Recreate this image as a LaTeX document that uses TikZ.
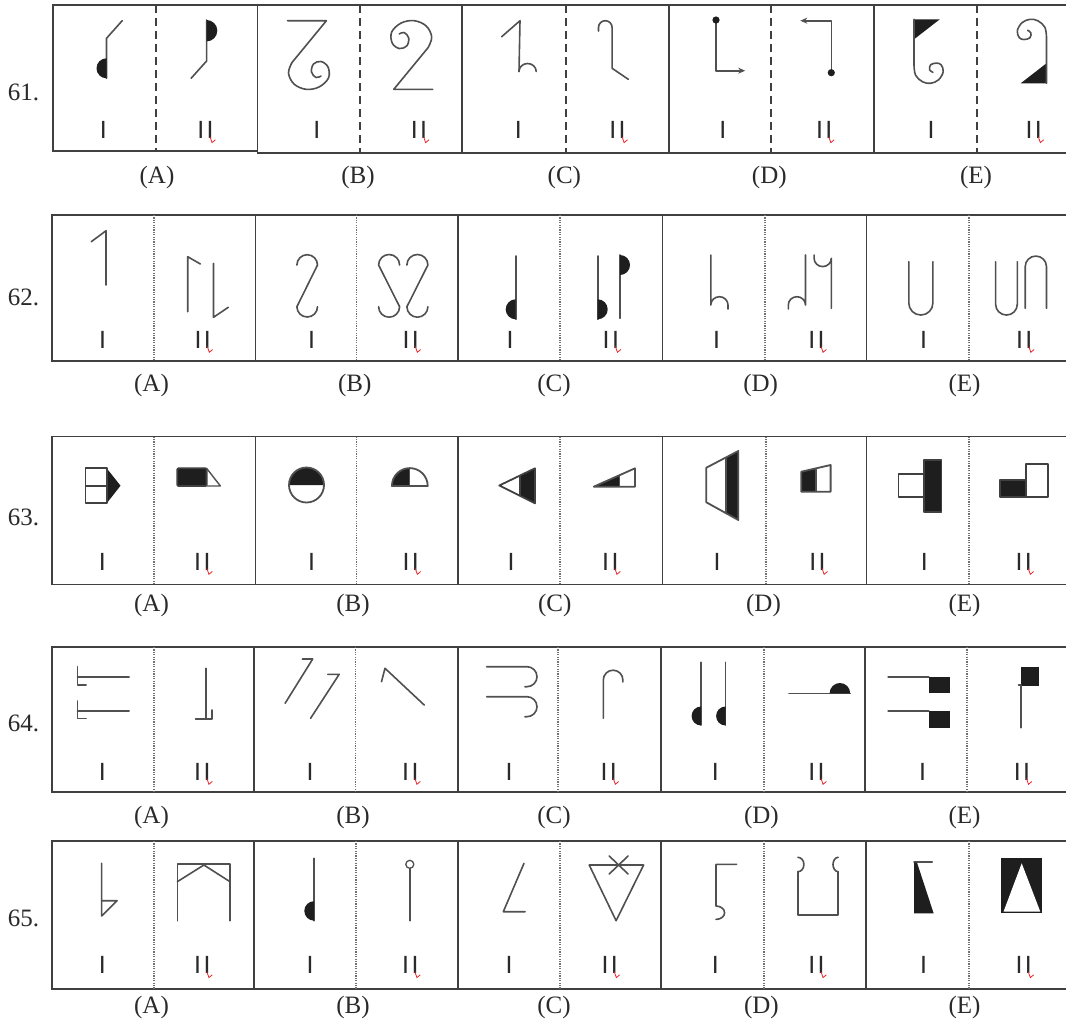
\documentclass[tikz,border=0pt]{standalone}
\usepackage{fontspec}
\setmainfont{Liberation Serif}
\newfontfamily\lsans{DejaVu Sans}
\usetikzlibrary{arrows.meta}
\definecolor{boxc}{HTML}{404040}
\definecolor{figc}{HTML}{505050}
\definecolor{inkc}{HTML}{1E1E1E}
\definecolor{txtc}{HTML}{2A2A2A}
\definecolor{divc}{HTML}{707070}
\definecolor{redc}{HTML}{E8262A}
\newcommand\romp[4]{%
 \node[rom] (#1I) at (#2,#4) {I};
 \node[rom] (#1II) at (#3,#4) {I\kern2.4pt I};
 \draw[redmk] (#3+4.6,#4-1.5) -- (#3+6.6,#4+4.3) -- (#3+10,#4+1.5);
}
\begin{document}
\begin{tikzpicture}[x=1pt,y=-1pt,
 box/.style={draw=boxc,line width=1.5pt},
 dashdiv/.style={draw=boxc,line width=1.8pt,dash pattern=on 8pt off 5pt},
 dotdiv/.style={draw=divc,line width=1.1pt,dash pattern=on 1.2pt off 1.2pt},
 fig/.style={draw=figc,line width=1.6pt,line cap=round,line join=round},
 sol/.style={draw=boxc,line width=1.8pt,line join=round},
 rn/.style={anchor=base west,inner sep=0pt,text=txtc,font=\fontsize{25}{25}\selectfont},
 opt/.style={anchor=base,inner sep=0pt,text=txtc,font=\fontsize{25}{25}\selectfont},
 rom/.style={anchor=base,inner sep=0pt,text=txtc,font=\lsans\fontsize{23.5}{23.5}\selectfont},
 redmk/.style={draw=redc,line width=0.8pt},
 arr/.style={-{Stealth[length=7pt,width=6pt]}},
]
\useasboundingbox (0,0) rectangle (1066,1020);
\fill[white] (0,0) rectangle (1066,1020);

% ================= ROW 61 =================
\node[rn] (n61) at (7.6,100) {61.};
\draw[box] (53,5) rectangle (257.6,151);
\draw[box] (257.6,5) rectangle (462,153);
\draw[box] (462,5) rectangle (669,153);
\draw[box] (669,5) rectangle (874,153);
\draw[box] (874,5) rectangle (1072,153);
\draw[dashdiv] (156,5) -- (156,151);
\draw[dashdiv] (360,5) -- (360,153);
\draw[dashdiv] (566,5) -- (566,153);
\draw[dashdiv] (771,5) -- (771,153);
\draw[dashdiv] (977,5) -- (977,153);
\node[opt] (o61a) at (157,183) {(A)};
\node[opt] (o61b) at (358,183) {(B)};
\node[opt] (o61c) at (564.4,183) {(C)};
\node[opt] (o61d) at (769.3,183) {(D)};
\node[opt] (o61e) at (976,183) {(E)};
\romp{r61a}{103.3}{205.4}{138.3}
\romp{r61b}{316.8}{419}{138.3}
\romp{r61c}{518.3}{617.5}{138.3}
\romp{r61d}{722.8}{824.2}{138.3}
\romp{r61e}{931.2}{1033.7}{138.3}
% A
\draw[fig] (122.2,20.7) -- (106.5,38.3) -- (106.5,78.3);
\fill[inkc] (106.5,58.3) arc[start angle=270,end angle=90,radius=10] -- cycle;
\draw[fig] (206.6,20) -- (206.6,61) -- (191.1,78.3);
\fill[inkc] (206.6,20) arc[start angle=-90,end angle=90,radius=10.7] -- cycle;
% B
\begin{scope}[shift={(309,55)}]
\draw[fig] (-21.5,-34.3) -- (17.4,-34.3) -- plot[smooth,tension=0.6] coordinates {(-17,7.5) (-20.5,18) (-15,29) (-3,34.3) (10,32) (19.5,23) (19,12) (12,6.5) (4.5,9) (2.5,17) (7,22.5) (12,21)};
\end{scope}
\begin{scope}[shift={(411.2,55)},rotate=180]
\draw[fig] (-21.5,-34.3) -- (17.4,-34.3) -- plot[smooth,tension=0.6] coordinates {(-17,7.5) (-20.5,18) (-15,29) (-3,34.3) (10,32) (19.5,23) (19,12) (12,6.5) (4.5,9) (2.5,17) (7,22.5) (12,21)};
\end{scope}
% C
\draw[fig] (501.7,36.7) -- (520,20.7) -- (519,71.5);
\draw[fig] (519,71.5) arc[start angle=180,end angle=360,x radius=8.6,y radius=8];
\draw[fig] (598.5,31) -- (598.5,27.5) arc[start angle=180,end angle=360,radius=6.8] -- (612.1,68.3) -- (628.3,79.3);
% D
\draw[fig,arr] (716,20) -- (716,70.7) -- (745.2,70.7);
\fill[inkc] (716,20) circle[radius=3.6];
\draw[fig,arr] (831.3,72.7) -- (831.3,20.7) -- (800.3,20.7);
\fill[inkc] (831.3,72.7) circle[radius=3.6];
% E
\begin{scope}[shift={(928.6,51.3)}]
\fill[inkc] (-14.6,-32) -- (11.2,-32) -- (-14.6,-12) -- cycle;
\draw[fig] (-14.6,-32) -- (-14.6,13.7) -- plot[smooth,tension=0.6] coordinates {(-14.6,13.7) (-13,24) (-6,30.5) (2,32) (10,28.5) (14.6,20.4) (12.5,13.5) (7.7,11.8) (2,13.5) (1,18.5) (4.3,21)};
\end{scope}
\begin{scope}[shift={(1031.9,51.3)},rotate=180]
\fill[inkc] (-14.6,-32) -- (11.2,-32) -- (-14.6,-12) -- cycle;
\draw[fig] (-14.6,-32) -- (-14.6,13.7) -- plot[smooth,tension=0.6] coordinates {(-14.6,13.7) (-13,24) (-6,30.5) (2,32) (10,28.5) (14.6,20.4) (12.5,13.5) (7.7,11.8) (2,13.5) (1,18.5) (4.3,21)};
\end{scope}

% ================= ROW 62 =================
\node[rn] (n62) at (7.6,305) {62.};
\foreach \a/\b in {52/255.5,255.5/458,458/662.5,662.5/866.5,866.5/1072}
  \draw[box] (\a,215) rectangle (\b,361);
\foreach \d in {154,356.4,560,765,969}
  \draw[dotdiv] (\d,215) -- (\d,361);
\node[opt] (o62a) at (151.5,391.7) {(A)};
\node[opt] (o62b) at (354.7,391.7) {(B)};
\node[opt] (o62c) at (554,391.7) {(C)};
\node[opt] (o62d) at (760.7,391.7) {(D)};
\node[opt] (o62e) at (964.6,391.7) {(E)};
\romp{r62a}{102.6}{202.7}{348}
\romp{r62b}{311.6}{410.7}{348}
\romp{r62c}{510}{610.8}{348}
\romp{r62d}{716.6}{816.4}{348}
\romp{r62e}{923.6}{1024.2}{348}
% A
\draw[fig] (91.3,241.7) -- (106,230.7) -- (106,285);
\draw[fig] (187.7,311.7) -- (187.7,256.7) -- (200.4,264);
\draw[fig] (213.5,263.3) -- (213.5,317.3) -- (228.3,307.3);
% B
\draw[fig] (296.9,265) arc[start angle=180,end angle=360,radius=10.3] -- (296.9,306.7) arc[start angle=180,end angle=0,radius=10.3];
\draw[fig] (399.6,265) arc[start angle=0,end angle=-180,radius=10.5] -- (399.6,306.7) arc[start angle=0,end angle=180,radius=10.5];
\draw[fig] (406.9,265) arc[start angle=180,end angle=360,radius=10.5] -- (406.9,306.7) arc[start angle=180,end angle=0,radius=10.5];
% C
\draw[fig] (515.7,256) -- (515.7,319.3);
\fill[inkc] (515.7,299.3) arc[start angle=270,end angle=90,radius=10] -- cycle;
\draw[fig] (597.7,256) -- (597.7,319.3);
\fill[inkc] (597.7,299.3) arc[start angle=-90,end angle=90,radius=10] -- cycle;
\draw[fig] (620,255) -- (620,318.3);
\fill[inkc] (620,255) arc[start angle=-90,end angle=90,radius=10] -- cycle;
% D
\draw[fig] (710.8,255) -- (710.8,305) arc[start angle=180,end angle=360,x radius=8.6,y radius=8.3] -- (728,309);
\draw[fig] (805.5,255) -- (805.5,305) arc[start angle=360,end angle=180,x radius=8.6,y radius=8.3] -- (788.3,309);
\draw[fig] (831.3,308.3) -- (831.3,258.3) arc[start angle=0,end angle=180,x radius=8.6,y radius=8.3] -- (814.1,255);
% E
\draw[fig] (908.8,261.7) -- (908.8,303) arc[start angle=180,end angle=0,radius=12.05] -- (932.9,261.7);
\draw[fig] (995.6,261.7) -- (995.6,304.2) arc[start angle=180,end angle=0,radius=10.85] -- (1017.3,261.7);
\draw[fig] (1025.2,308.3) -- (1025.2,266.7) arc[start angle=180,end angle=360,radius=10.65] -- (1046.5,308.3);

% ================= ROW 63 =================
\node[rn] (n63) at (7.6,525) {63.};
\foreach \a/\b in {52/255.5,255.5/458,458/662.5,662.5/866.5,866.5/1072}
  \draw[box] (\a,436.5) rectangle (\b,584.5);
\foreach \d in {154,356.4,560,766,969}
  \draw[dotdiv] (\d,436.5) -- (\d,584.5);
\node[opt] (o63a) at (151.5,611.7) {(A)};
\node[opt] (o63b) at (353,611.7) {(B)};
\node[opt] (o63c) at (554.8,611.7) {(C)};
\node[opt] (o63d) at (763.5,611.7) {(D)};
\node[opt] (o63e) at (964.6,611.7) {(E)};
\romp{r63a}{102.3}{202.3}{570}
\romp{r63b}{311.6}{410.7}{570}
\romp{r63c}{511}{610.3}{570}
\romp{r63d}{717}{817.5}{570}
\romp{r63e}{924.3}{1023.7}{570}
% A
\fill[inkc] (106.7,468.3) -- (120.5,485.7) -- (106.7,503.3) -- cycle;
\draw[sol] (85.4,468.3) rectangle (106.7,503.3);
\draw[sol] (85.4,485.7) -- (106.7,485.7);
\draw[sol,fill=inkc,rounded corners=1pt] (177.3,468.3) rectangle (206.6,486);
\draw[sol,draw=figc,line width=1.4pt] (206.6,468.3) -- (220.4,486) -- (206.6,486);
% B
\fill[inkc] (289,485) arc[start angle=180,end angle=360,radius=17.5] -- cycle;
\draw[sol,draw=figc] (306.5,485) circle[radius=17.5];
\fill[inkc] (409.8,486) -- (391.9,486) arc[start angle=180,end angle=270,radius=17.9] -- cycle;
\draw[sol,draw=figc] (391.9,486) arc[start angle=180,end angle=360,radius=17.9] -- cycle;
\draw[sol,draw=figc,line width=1.2pt] (409.8,468.1) -- (409.8,486);
% C
\fill[inkc] (520,475.5) -- (535,468.3) -- (535,503.3) -- (520,495.8) -- cycle;
\draw[sol] (499.3,485.5) -- (535,468.3) -- (535,503.3) -- cycle;
\draw[sol] (520,475.5) -- (520,495.8);
\fill[inkc] (593.7,486.7) -- (619.5,475.2) -- (619.5,486.7) -- cycle;
\draw[sol,draw=figc] (593.7,486.7) -- (635,468.3) -- (635,486.7) -- cycle;
\draw[sol,draw=figc] (619.5,475.2) -- (619.5,486.7);
% D
\fill[inkc] (726.3,457.3) -- (738.3,451) -- (738.3,520) -- (726.3,513.4) -- cycle;
\draw[sol,draw=figc] (706.3,467.7) -- (738.3,451) -- (738.3,520) -- (706.3,502.3) -- cycle;
\draw[sol,draw=figc] (726.3,457.3) -- (726.3,513.4);
\fill[inkc] (801.3,471.7) -- (815.8,468.4) -- (815.8,491.7) -- (801.3,491.7) -- cycle;
\draw[sol,draw=figc] (801.3,471.7) -- (830.6,465) -- (830.6,491.7) -- (801.3,491.7) -- cycle;
\draw[sol,draw=figc] (815.8,468.4) -- (815.8,491.7);
% E
\draw[sol] (898.5,474.3) rectangle (924.3,496.7);
\draw[sol,fill=inkc] (924.3,460) rectangle (941.5,511.7);
\draw[sol,fill=inkc] (1000,480) rectangle (1025.9,496.7);
\draw[sol] (1025.9,464.3) rectangle (1048.2,496.7);

% ================= ROW 64 =================
\node[rn] (n64) at (7.6,731.7) {64.};
\foreach \a/\b in {52/254,254/458,458/661,661/865,865/1072}
  \draw[box] (\a,647) rectangle (\b,792);
\foreach \d in {154,355.7,558,764,967}
  \draw[dotdiv] (\d,647) -- (\d,792);
\node[opt] (o64a) at (151.5,823.3) {(A)};
\node[opt] (o64b) at (353,823.3) {(B)};
\node[opt] (o64c) at (554,823.3) {(C)};
\node[opt] (o64d) at (761.4,823.3) {(D)};
\node[opt] (o64e) at (964.6,823.3) {(E)};
\romp{r64a}{102.3}{202.3}{780}
\romp{r64b}{310}{410.3}{780}
\romp{r64c}{509}{608.7}{780}
\romp{r64d}{715.3}{816.4}{780}
\romp{r64e}{922.6}{1021.9}{780}
% A
\draw[fig] (129.1,676.7) -- (77.5,676.7);
\draw[fig] (77.5,666.7) -- (77.5,685) -- (86.1,685);
\draw[fig] (129.1,711) -- (77.5,711);
\draw[fig] (77.5,701) -- (77.5,718.3) -- (86.1,718.3);
\draw[fig] (205.9,668.3) -- (205.9,719);
\draw[fig] (195.6,719) -- (211.8,719) -- (211.8,710);
% B
\draw[fig] (302.3,659) -- (312.7,659) -- (285.1,703.3);
\draw[fig] (327.8,674.3) -- (339.2,674.3) -- (310.6,718.3);
\draw[fig] (381.5,681.7) -- (385,668.3) -- (424.2,705);
% C
\draw[fig] (486.7,666.7) -- (527,666.7) arc[start angle=270,end angle=450,radius=10] -- (525,686.7);
\draw[fig] (486.7,696.7) -- (527,696.7) arc[start angle=270,end angle=450,radius=10] -- (525,716.7);
\draw[fig] (603.3,718.3) -- (603.3,680) arc[start angle=180,end angle=360,radius=9.8] -- (622.9,682);
% D
\draw[fig] (701.1,662.3) -- (701.1,725);
\fill[inkc] (701.1,706.5) arc[start angle=270,end angle=90,radius=9.5] -- cycle;
\draw[fig] (725.6,662.3) -- (725.6,725);
\fill[inkc] (725.6,706.5) arc[start angle=270,end angle=90,radius=9.5] -- cycle;
\draw[fig] (789,693.3) -- (850.2,693.3);
\fill[inkc] (829.6,693.3) arc[start angle=180,end angle=360,radius=10.3] -- cycle;
% E
\draw[fig] (888.1,676.7) -- (928.8,676.7);
\fill[inkc] (928.8,676.7) rectangle (950.1,693.3);
\draw[fig] (888.1,711) -- (928.8,711);
\fill[inkc] (928.8,711) rectangle (950.1,727.7);
\fill[inkc] (1020.7,666.7) rectangle (1039,685.7);
\draw[fig] (1018.5,685.2) -- (1020.7,685.2) -- (1020.7,727.7);

% ================= ROW 65 =================
\node[rn] (n65) at (7.6,926.7) {65.};
\foreach \a/\b in {52/254,254/458,458/661,661/866,866/1072}
  \draw[box] (\a,841) rectangle (\b,989);
\foreach \d in {154,356,560,764,969}
  \draw[dotdiv] (\d,841) -- (\d,989);
\node[opt] (o65a) at (151.5,1013.3) {(A)};
\node[opt] (o65b) at (353,1013.3) {(B)};
\node[opt] (o65c) at (554,1013.3) {(C)};
\node[opt] (o65d) at (761.4,1013.3) {(D)};
\node[opt] (o65e) at (964.6,1013.3) {(E)};
\romp{r65a}{102.3}{202.3}{973.3}
\romp{r65b}{310}{410.3}{973.3}
\romp{r65c}{509}{609.7}{973.3}
\romp{r65d}{715.3}{816.4}{973.3}
\romp{r65e}{923.6}{1023.7}{973.3}
% A
\draw[fig] (101.6,863.3) -- (101.6,916) -- (117.1,900.7) -- (101.6,900.7);
\draw[fig] (177.3,920.7) -- (177.3,864) -- (230,864) -- (230,920.7);
\draw[fig] (177.3,881.7) -- (203.9,865) -- (230,881.7);
% B
\draw[fig] (314,858.3) -- (314,920.7);
\fill[inkc] (314,901.2) arc[start angle=270,end angle=90,radius=9.7] -- cycle;
\draw[fig] (409.8,868.3) -- (409.8,920.7);
\draw[fig,line width=1.3pt] (409.8,864.3) circle[radius=4];
% C
\draw[fig] (524,863.3) -- (503.3,911.7) -- (525,911.7);
\draw[fig] (589.2,865) -- (643.6,865) -- (616.1,920.7) -- cycle;
\draw[fig] (609.2,856) -- (628.1,874);
\draw[fig] (628.1,856) -- (609.2,874);
% D
\draw[fig] (736.6,864.3) -- (716,864.3) -- (716,906) arc[start angle=-90,end angle=90,x radius=8.6,y radius=6.7];
\draw[fig] (797.9,871.7) -- (797.9,915) -- (838.2,915) -- (838.2,871.7);
\draw[fig] (797.9,857.3) arc[start angle=-90,end angle=90,x radius=6,y radius=7.2];
\draw[fig] (838.2,857.3) arc[start angle=270,end angle=90,x radius=5.2,y radius=7.2];
% E
\draw[fig] (914,861.7) -- (932.2,861.7);
\fill[inkc] (914,862.5) -- (917,862.5) -- (933.6,913.3) -- (914,913.3) -- cycle;
\fill[inkc] (1001.1,858.3) rectangle (1042.4,913.3);
\fill[white] (1021.7,863.3) -- (1040.3,911.7) -- (1003.5,911.7) -- cycle;
\end{tikzpicture}
\end{document}
